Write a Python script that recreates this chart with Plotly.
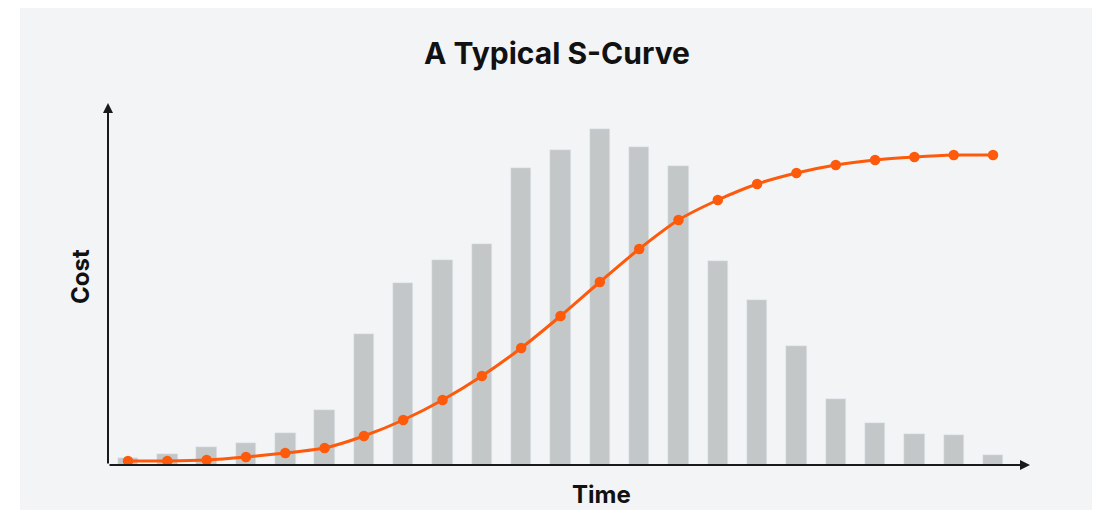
import plotly.graph_objects as go

periods = list(range(23))
period_cost = [7, 11, 18, 22, 32, 55, 131, 182, 205, 221, 297, 315, 336, 318, 299,
               204, 165, 119, 66, 42, 31, 30, 10]
cumulative_cost = [4, 4, 5, 8, 12, 17, 29, 45, 65, 89, 117, 149, 183, 216, 245,
                   265, 281, 292, 300, 305, 308, 310, 310]

title_text = "A Typical S-Curve"
x_label = "Time"
y_label = "Cost"

# the page body adds an 8px offset; compensate
OFF = 8
W, H = 1102, 510
L, R, T, B = 108 - OFF, 1030 - OFF, 103 - OFF, 465 - OFF
xmin, xmax = -0.509, 22.94
ymin, ymax = 0, 362

def px_x(p):
    return (p - OFF - L) / (R - L)

def px_y(p):
    return (B - (p - OFF)) / (B - T)

fig = go.Figure()
fig.add_trace(go.Bar(x=periods, y=period_cost, marker_color="#c3c7c8",
                     width=0.52, showlegend=False, hoverinfo="skip"))
fig.add_trace(go.Scatter(x=periods, y=cumulative_cost, mode="lines+markers",
                         line=dict(color="#fd5a0c", width=3, shape="spline", smoothing=0.6),
                         marker=dict(color="#fd5a0c", size=10.5),
                         showlegend=False, hoverinfo="skip"))

fig.add_shape(type="rect", xref="paper", yref="paper",
              x0=px_x(20), x1=px_x(1092), y0=px_y(512), y1=px_y(4),
              fillcolor="#f3f4f6", line=dict(width=0), layer="below")

# axes arrows
fig.add_annotation(x=xmax, y=0, ax=xmin, ay=0, xref="x", yref="y", axref="x", ayref="y",
                   showarrow=True, arrowhead=2, arrowsize=1, arrowwidth=2,
                   arrowcolor="#1a1a1a", text="", standoff=0, startstandoff=0)
fig.add_annotation(x=xmin, y=ymax, ax=xmin, ay=0, xref="x", yref="y", axref="x", ayref="y",
                   showarrow=True, arrowhead=2, arrowsize=1, arrowwidth=2,
                   arrowcolor="#1a1a1a", text="", standoff=0, startstandoff=0)

fig.add_annotation(text=y_label, xref="paper", yref="paper", x=px_x(80), y=px_y(277),
                   xanchor="center", yanchor="middle",
                   showarrow=False, textangle=-90,
                   font=dict(family="Inter", size=24, color="#111111", weight="bold"))
fig.add_annotation(text=x_label, xref="paper", yref="paper", x=px_x(601), y=px_y(495),
                   xanchor="center", yanchor="middle",
                   showarrow=False,
                   font=dict(family="Inter", size=24, color="#111111", weight="bold"))

fig.update_layout(
    width=W, height=H,
    margin=dict(l=L, r=W - R, t=T, b=H - B, pad=0),
    paper_bgcolor="white", plot_bgcolor="rgba(0,0,0,0)",
    title=dict(text=title_text, x=(557 - OFF) / W, xanchor="center",
               y=1 - (53 - OFF) / H, yanchor="middle",
               xref="container", yref="container",
               font=dict(family="Inter", size=30, color="#111111", weight="bold")),
    xaxis=dict(range=[xmin, xmax], showgrid=False, zeroline=False, showticklabels=False,
               showline=False, ticks=""),
    yaxis=dict(range=[ymin, ymax], showgrid=False, zeroline=False, showticklabels=False,
               showline=False, ticks=""),
    bargap=0,
)

fig.write_html("out.html")
